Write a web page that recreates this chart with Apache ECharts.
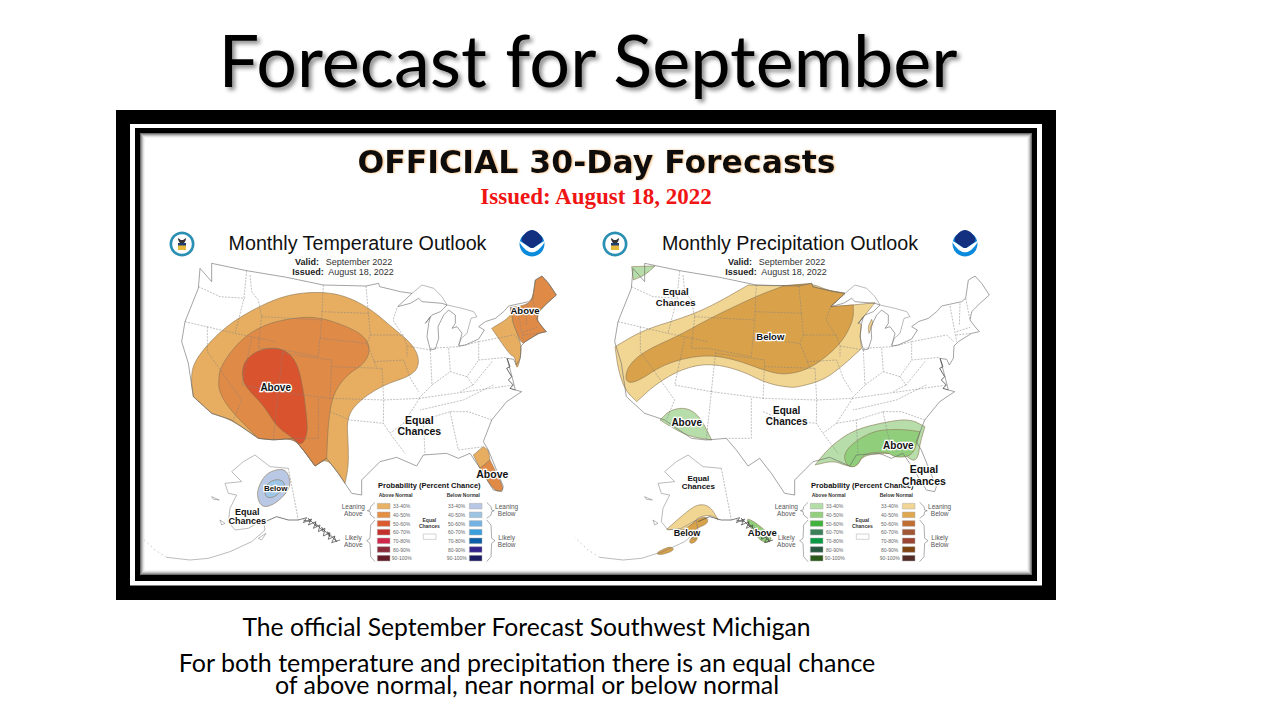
<!DOCTYPE html>
<html>
<head>
<meta charset="utf-8">
<title>Forecast for September</title>
<script src="https://cdn.jsdelivr.net/npm/echarts@6/dist/echarts.min.js"></script>
<style>
html, body { margin: 0; padding: 0; background: #fff; }
#chart { width: 1280px; height: 720px; }
</style>
</head>
<body>
<div id="chart"></div>
<script>
// map shapes are in "map units": 3 units = 1 px, both maps share the same base
var usCoast = [[245,130],[350,152],[470,172],[580,195],[708,198],[746,190],[749,200],[791,210],[811,215],[846,220],[803,260],[841,250],[866,235],[876,245],[936,250],[951,255],[931,275],[906,285],[886,310],[901,290],[896,310],[891,350],[901,390],[916,387],[926,355],[924,320],[941,285],[956,270],[976,285],[976,310],[966,325],[981,320],[996,340],[986,378],[1006,375],[1046,357],[1063,330],[1046,320],[1066,305],[1096,295],[1121,275],[1136,258],[1196,245],[1208,235],[1216,180],[1236,168],[1256,190],[1279,225],[1251,250],[1226,275],[1221,300],[1236,320],[1249,335],[1226,340],[1186,365],[1173,378],[1171,415],[1159,435],[1151,418],[1131,415],[1146,470],[1156,510],[1175,515],[1130,545],[1085,600],[1060,665],[1075,690],[1120,800],[1115,815],[1090,810],[1050,745],[1020,700],[985,715],[950,700],[880,705],[860,738],[800,712],[750,725],[695,780],[695,825],[665,820],[645,790],[625,760],[590,715],[555,738],[520,690],[490,655],[430,660],[385,655],[305,600],[245,580],[190,530],[175,430],[155,365],[165,305],[205,205],[210,145],[245,185],[245,130]];
var superiorNorth = [[846,220],[876,195],[911,205],[936,230],[951,255],[996,265],[1031,275],[1041,290],[1023,295],[1011,340],[994,355],[986,375]];
var chesapeake = [[1131,415],[1140,440],[1130,445],[1145,470],[1135,480],[1150,495],[1140,505],[1156,510]];
var usBorders = [
  [[205,200],[270,230],[345,235]],
  [[350,152],[342,235],[315,340]],
  [[165,305],[315,340],[435,365]],
  [[360,165],[365,215],[385,240],[395,290]],
  [[395,290],[575,300]],
  [[395,290],[385,385],[435,385]],
  [[232,320],[232,395],[335,540],[310,600]],
  [[365,355],[335,495],[445,515]],
  [[458,395],[445,515],[430,660]],
  [[435,385],[565,410]],
  [[458,400],[605,420],[600,540]],
  [[445,515],[600,535],[761,540]],
  [[565,535],[565,655],[490,655]],
  [[580,195],[575,300],[565,410]],
  [[575,275],[720,280]],
  [[570,355],[711,370],[741,445]],
  [[605,440],[756,445]],
  [[708,198],[715,280],[721,345],[711,370]],
  [[756,445],[761,540],[760,610],[780,640]],
  [[600,575],[660,600],[760,610]],
  [[721,345],[821,345]],
  [[731,425],[821,420],[841,475],[866,515]],
  [[801,265],[789,300],[821,350],[831,378],[831,410]],
  [[831,378],[901,390]],
  [[901,390],[906,495],[866,535]],
  [[901,385],[986,380]],
  [[956,385],[961,455]],
  [[906,495],[961,455],[1011,470],[1046,420]],
  [[986,380],[1046,365],[1046,420],[1131,412]],
  [[1046,365],[1151,345],[1173,365]],
  [[1011,470],[1029,495],[1086,425]],
  [[1029,495],[991,515]],
  [[761,540],[869,535],[1151,495]],
  [[1090,495],[1000,540],[870,570]],
  [[869,535],[820,610],[780,640],[825,700]],
  [[820,610],[880,600],[885,705]],
  [[880,600],[960,575],[985,690]],
  [[960,575],[1015,575],[1085,600]],
  [[985,690],[1060,680]],
  [[1161,258],[1181,365]],
  [[1191,250],[1189,315]],
  [[1208,235],[1221,300]],
  [[1181,335],[1221,322]],
  [[1179,345],[1226,340]]
];
var akCoast = [[475,745],[420,740],[375,705],[340,725],[305,755],[335,785],[285,790],[295,820],[320,825],[300,865],[295,905],[315,930],[355,925],[400,900],[405,930],[365,965],[300,995],[235,1015],[180,1020],[110,1012]];
var akGulf = [[405,905],[440,890],[475,900],[505,900]];
var akBorder = [[475,745],[505,900]];
var akAleutian = [[110,1012],[75,990],[35,952]];
var akIslands = [[[245,830],[268,840],[250,838],[245,830]], [[270,900],[285,910],[275,915],[270,900]], [[385,955],[408,940],[395,960],[385,955]]];
var akPanhandle = [[505,900],[530,893],[520,908],[545,897],[535,915],[558,905],[550,925],[570,915],[565,935],[585,925],[580,948],[600,938],[595,958],[615,948],[605,968],[630,960]];
var akPanhandle2 = [[520,900],[540,905],[535,895],[560,920],[555,908],[580,935],[575,922],[600,950],[592,935],[620,965],[612,950]];

// temperature outlook regions (a repeated point keeps a sharp corner)
var tempLean = [[183,480],[190,430],[235,370],[300,310],[385,260],[470,225],[560,215],[640,225],[720,265],[790,325],[850,375],[870,425],[850,465],[760,495],[690,540],[650,590],[655,680],[655,740],[645,790],[645,790],[625,760],[590,715],[555,738],[555,738],[520,690],[490,655],[430,660],[385,655],[385,655],[305,600],[245,580],[245,580],[190,530],[190,530]];
var tempMid = [[265,490],[270,440],[330,360],[400,315],[480,295],[560,290],[640,315],[700,345],[722,385],[705,430],[650,465],[610,520],[595,600],[590,715],[590,715],[555,738],[555,738],[520,690],[490,655],[430,660],[385,655],[385,655],[300,570],[270,520]];
var tempCore = [[335,460],[345,420],[385,390],[440,382],[480,400],[505,440],[520,510],[530,590],[533,640],[515,678],[490,655],[440,620],[400,555],[345,500]];
var neLean = [[1142,262],[1142,262],[1143,290],[1085,325],[1085,325],[1140,405],[1155,410],[1160,450],[1170,420],[1175,375],[1150,310],[1150,310]];
var neMid = [[1142,262],[1142,262],[1190,255],[1208,235],[1216,180],[1216,180],[1236,168],[1236,168],[1256,190],[1279,225],[1279,225],[1251,250],[1226,275],[1221,300],[1236,320],[1249,335],[1249,335],[1226,340],[1186,365],[1175,372],[1150,310],[1150,310]];
var flLean = [[1030,705],[1030,705],[1060,680],[1060,680],[1075,690],[1080,720],[1080,720],[1050,745],[1050,745]];
var flMid = [[1050,745],[1050,745],[1080,720],[1080,720],[1120,800],[1115,815],[1090,810]];
var akBlueOuter = [[470,747],[485,800],[440,850],[395,865],[378,820],[400,770],[430,750]];
var akBlueInner = [[440,775],[470,790],[440,830],[405,835],[405,795]];

// precipitation outlook regions
var precLean = [[156,380],[156,380],[241,330],[371,290],[451,255],[556,195],[556,195],[661,198],[746,190],[791,210],[846,220],[846,220],[803,260],[803,260],[871,255],[936,248],[936,248],[906,285],[886,310],[886,310],[896,310],[891,350],[896,385],[896,385],[836,440],[781,480],[711,500],[681,503],[611,490],[531,450],[441,430],[361,445],[281,490],[221,545],[221,545],[186,510],[166,450]];
var precStrip = [[926,298],[926,298],[930,310],[918,340],[918,340],[915,320]];
var precDark = [[186,470],[201,430],[251,390],[351,345],[431,300],[576,230],[661,198],[661,198],[746,190],[746,190],[749,200],[791,210],[846,220],[846,220],[803,260],[803,260],[871,255],[871,255],[871,300],[841,360],[791,410],[731,450],[661,465],[601,450],[521,420],[441,405],[361,415],[291,440],[231,480],[196,490]];
var wetWa = [[206,140],[206,140],[276,138],[276,138],[246,165],[211,180],[211,180]];
var wetAz = [[291,600],[291,600],[321,570],[371,562],[411,590],[446,660],[446,660],[381,650],[331,625]];
var wetSeOuter = [[756,735],[756,735],[801,680],[871,630],[971,605],[1041,597],[1086,620],[1086,620],[1071,670],[1066,710],[1051,725],[1021,700],[971,700],[901,705],[881,740],[851,738],[811,722]];
var wetSeInner = [[841,700],[881,660],[941,630],[1021,628],[1071,635],[1071,635],[1056,690],[1036,710],[996,712],[971,695],[901,700],[881,742],[851,738]];
var akTan = [[311,928],[311,928],[371,875],[406,852],[441,858],[466,900],[466,900],[446,885],[406,890],[381,920],[366,930],[366,930]];
var akBrown = [[406,895],[431,890],[436,910],[400,925],[375,950],[340,950],[345,938],[385,915]];
var akKodiak = [[381,955],[405,945],[400,965],[380,972]];
var akTail = [[276,1000],[321,978],[336,990],[296,1005]];
var akGreen = [[546,895],[571,902],[631,952],[611,972],[581,952]];

var tempColors = { lean: "#E7AE62", mid: "#E08A47", core: "#D9532E", blue1: "#B9C9E5", blue2: "#9DC5E8" };
var precColors = { lean: "#F1D593", dark: "#D9A24A", green1: "#B6DDAA", green2: "#90CE7C" };

// legend
var legendPct = ["33-40%", "40-50%", "50-60%", "60-70%", "70-80%", "80-90%", "90-100%"];
var tempAbove = ["#E9B164", "#E58F45", "#DD5A2E", "#C4302B", "#D0284A", "#8B2B3A", "#651E28"];
var tempBelow = ["#B8C8E4", "#9DC3E3", "#74B2E3", "#3B9FDC", "#0B5FA8", "#32218A", "#1C1A62"];
var precAbove = ["#B5DDA8", "#93CF7C", "#3FB33A", "#3A8059", "#0B9A44", "#26583F", "#2A5A1A"];
var precBelow = ["#F2D595", "#DFA84E", "#BF6E30", "#A05535", "#9C4433", "#7E4310", "#522B26"];

// [x, y, text, font size]
var tempLabels = [[437,503,"Above",10],[868,600,"Equal",10.5],[868,632,"Chances",10.5],[1185,270,"Above",9.5],[1087,762,"Above",10.5],[437,805,"Below",8],[352,877,"Equal",9],[352,903,"Chances",9]];
var precLabels = [[338,213,"Equal",9.5],[338,246,"Chances",9.5],[622,348,"Below",9.5],[371,607,"Above",10],[671,570,"Equal",10],[671,604,"Chances",10],[1006,675,"Above",10],[1083,748,"Equal",10.5],[1083,782,"Chances",10.5],[406,775,"Equal",8],[406,800,"Chances",8],[372,938,"Below",9],[598,936,"Above",9.5]];

var mapGrids = [
  { left: 130, top: 220, width: 440, height: 380, show: false },
  { left: 563, top: 220, width: 440, height: 380, show: false }
];

// corner cutting so the hand read outlines come out as soft curves
function soften(pts) {
  var out = pts;
  for (var n = 0; n < 3; n++) {
    var next = [];
    for (var i = 0; i < out.length; i++) {
      var a = out[i], b = out[(i + 1) % out.length];
      next.push([a[0] * 0.75 + b[0] * 0.25, a[1] * 0.75 + b[1] * 0.25]);
      next.push([a[0] * 0.25 + b[0] * 0.75, a[1] * 0.25 + b[1] * 0.75]);
    }
    out = next;
  }
  return out;
}

function polygonSeries(pts, color, g) {
  var smooth = soften(pts);
  return {
    type: "custom", xAxisIndex: g, yAxisIndex: g, clip: false, silent: true, z: 2,
    data: [[pts[0][0], pts[0][1]]],
    renderItem: function (params, api) {
      return {
        type: "polygon",
        shape: { points: smooth.map(function (p) { return api.coord(p); }) },
        style: { fill: color, stroke: "#8a7350", lineWidth: 0.6 }
      };
    }
  };
}

function lineSeries(pts, color, width, dash, g) {
  return {
    type: "line", xAxisIndex: g, yAxisIndex: g, data: pts, symbol: "none", silent: true, z: 3,
    lineStyle: { color: color, width: width, type: dash }
  };
}

function textSeries(rows, g) {
  return {
    type: "custom", xAxisIndex: g, yAxisIndex: g, clip: false, silent: true, z: 6,
    data: rows,
    renderItem: function (params, api) {
      var row = rows[params.dataIndex];
      var c = api.coord([row[0], row[1]]);
      return {
        type: "text",
        style: {
          x: c[0], y: c[1], text: row[2], align: "center", verticalAlign: "middle",
          font: (row[4] || "bold") + " " + row[3] + "px 'Liberation Sans'",
          fill: row[5] || "#111", stroke: row[4] ? null : "#fff", lineWidth: row[4] ? 0 : 2.5
        }
      };
    }
  };
}

function legendSeries(above, below, g) {
  var boxes = [];
  var rows = [
    [898,797,"Probability (Percent Chance)",7.5],
    [797,825,"Above Normal",5,"bold","#333"],[1000,825,"Below Normal",5,"bold","#333"],
    [670,858,"Leaning",6.5,"normal","#555"],[670,881,"Above",6.5,"normal","#555"],
    [670,951,"Likely",6.5,"normal","#555"],[670,973,"Above",6.5,"normal","#555"],
    [1130,858,"Leaning",6.5,"normal","#555"],[1130,881,"Below",6.5,"normal","#555"],
    [1130,951,"Likely",6.5,"normal","#555"],[1130,973,"Below",6.5,"normal","#555"],
    [898,899,"Equal",5,"bold","#333"],[898,918,"Chances",5,"bold","#333"]
  ];
  for (var i = 0; i < legendPct.length; i++) {
    var y = 850 + i * 26;
    boxes.push([742, y, 780, y + 17, above[i]]);
    boxes.push([1018, y, 1056, y + 17, below[i]]);
    rows.push([815, y + 9, legendPct[i], 5, "normal", "#666"]);
    rows.push([980, y + 9, legendPct[i], 5, "normal", "#666"]);
  }
  boxes.push([880, 942, 918, 958, "#fff"]);
  var out = [{
    type: "custom", xAxisIndex: g, yAxisIndex: g, clip: false, silent: true, z: 5,
    data: boxes,
    renderItem: function (params, api) {
      var b = boxes[params.dataIndex];
      var a = api.coord([b[0], b[1]]);
      var d = api.coord([b[2], b[3]]);
      return {
        type: "rect",
        shape: { x: a[0], y: a[1], width: d[0] - a[0], height: d[1] - a[1] },
        style: { fill: b[4], stroke: "#aaa", lineWidth: 0.5 }
      };
    }
  }, textSeries(rows, g)];
  var braces = [
    [[735,847],[722,860],[720,870],[712,872],[720,875],[722,885],[735,895]],
    [[735,900],[722,915],[720,955],[710,962],[720,970],[722,1010],[735,1025]],
    [[1070,847],[1083,860],[1085,870],[1093,872],[1085,875],[1083,885],[1070,895]],
    [[1070,900],[1083,915],[1085,955],[1095,962],[1085,970],[1083,1010],[1070,1025]]
  ];
  braces.forEach(function (p) { out.push(lineSeries(p, "#777", 0.6, "solid", g)); });
  return out;
}

function baseMapSeries(g) {
  var out = [];
  usBorders.forEach(function (p) { out.push(lineSeries(p, "#808080", 0.5, [2, 1.2], g)); });
  out.push(lineSeries(usCoast, "#666", 0.6, "solid", g));
  out.push(lineSeries(superiorNorth, "#777", 0.5, "solid", g));
  out.push(lineSeries(chesapeake, "#444", 0.8, "solid", g));
  out.push(lineSeries(akCoast, "#777", 0.5, "solid", g));
  out.push(lineSeries(akGulf, "#444", 0.7, "solid", g));
  out.push(lineSeries(akBorder, "#777", 0.5, [2, 1.2], g));
  out.push(lineSeries(akAleutian, "#888", 0.5, [1.5, 3], g));
  akIslands.forEach(function (p) { out.push(lineSeries(p, "#777", 0.5, "solid", g)); });
  out.push(lineSeries(akPanhandle, "#444", 0.7, "solid", g));
  out.push(lineSeries(akPanhandle2, "#444", 0.7, "solid", g));
  return out;
}

var series = [];
[[tempLean, tempColors.lean], [tempMid, tempColors.mid], [tempCore, tempColors.core],
 [neLean, tempColors.lean], [neMid, tempColors.mid], [flLean, tempColors.lean], [flMid, tempColors.mid],
 [akBlueOuter, tempColors.blue1], [akBlueInner, tempColors.blue2]].forEach(function (r) {
  series.push(polygonSeries(r[0], r[1], 0));
});
[[precLean, precColors.lean], [precStrip, precColors.lean], [precDark, precColors.dark], [wetWa, precColors.green1], [wetAz, precColors.green1],
 [wetSeOuter, precColors.green1], [wetSeInner, precColors.green2], [akTan, precColors.lean], [akBrown, precColors.dark],
 [akKodiak, precColors.dark], [akTail, precColors.dark], [akGreen, precColors.green2]].forEach(function (r) {
  series.push(polygonSeries(r[0], r[1], 1));
});
series = series.concat(baseMapSeries(0), baseMapSeries(1));
series = series.concat(legendSeries(tempAbove, tempBelow, 0), legendSeries(precAbove, precBelow, 1));
series.push(textSeries(tempLabels, 0));
series.push(textSeries(precLabels, 1));

function axis(max, inverse, g) {
  return { type: "value", gridIndex: g, min: 0, max: max, inverse: inverse, show: false };
}

function rect(x, y, w, h, fill) {
  return { type: "rect", shape: { x: x, y: y, width: w, height: h }, style: { fill: fill }, silent: true };
}

function text(x, y, str, font, fill, extra) {
  return {
    type: "text", x: x, y: y, silent: true, z: 10,
    style: Object.assign({ text: str, font: font, fill: fill, align: "center", verticalAlign: "middle" }, extra || {})
  };
}

function circle(x, y, r, fill) {
  return { type: "circle", shape: { cx: x, cy: y, r: r }, style: { fill: fill }, silent: true, z: 4 };
}

function blob(points, fill) {
  return { type: "polygon", silent: true, z: 4, shape: { points: soften(points) }, style: { fill: fill } };
}

function seal(x, y) {
  var shield = rect(x - 4, y - 1, 8, 7, "#E5B93A");
  var chief = rect(x - 4, y - 1, 8, 2.5, "#1F3F73");
  shield.z = 5;
  chief.z = 5;
  return [
    circle(x, y, 12.5, "#2A8FB3"), circle(x, y, 9.8, "#ffffff"),
    blob([[x - 5, y - 7], [x, y - 3], [x + 5, y - 7], [x + 2, y], [x - 2, y]], "#333333"),
    shield, chief
  ];
}

function noaa(x, y) {
  return [
    circle(x, y, 12.5, "#0C8BDD"),
    blob([[x - 12.5, y - 4], [x - 4, y - 14], [x + 4, y - 14], [x + 12.5, y - 4], [x + 4, y + 2], [x, y + 5], [x - 4, y + 2]], "#12307F"),
    blob([[x - 15, y - 5], [x - 6, y + 1], [x, y + 5], [x + 6, y + 1], [x + 15, y - 5], [x + 7, y + 6], [x, y + 9], [x - 7, y + 6]], "#ffffff")
  ];
}

var frame = [
  rect(116, 110, 940, 490, "#000000"),
  rect(130, 124, 912, 461.5, "#ffffff"),
  rect(135, 128, 902, 453, "#000000"),
  rect(140, 133, 892, 442, "#6e6e6e"),
  rect(141, 134, 890, 440, "#9c9c9c"),
  rect(142, 135, 888, 438, "#c4c4c4"),
  rect(143, 136, 886, 436, "#e2e2e2"),
  rect(144, 137, 884, 434, "#f4f4f4"),
  rect(145, 138, 882, 432, "#ffffff")
];

var pageText = [
  text(588, 59, "Forecast for September", "72px Lato", "#000", { textShadowColor: "rgba(0,0,0,0.45)", textShadowBlur: 4, textShadowOffsetX: 3, textShadowOffsetY: 3 }),
  text(596.5, 162, "OFFICIAL 30-Day Forecasts", "bold 31.5px 'DejaVu Sans'", "#111", { textShadowColor: "rgba(230,140,40,0.6)", textShadowBlur: 2, textShadowOffsetX: 1 }),
  text(596, 196, "Issued: August 18, 2022", "bold 23px 'Liberation Serif'", "#F01414"),
  text(357.5, 243, "Monthly Temperature Outlook", "19.7px 'Liberation Sans'", "#111"),
  text(790, 243, "Monthly Precipitation Outlook", "19.7px 'Liberation Sans'", "#111"),
  text(526.5, 626, "The official September Forecast Southwest Michigan", "24.7px Lato", "#000"),
  text(527, 662, "For both temperature and precipitation there is an equal chance", "25px Lato", "#000"),
  text(527, 684, "of above normal, near normal or below normal", "25px Lato", "#000")
];

function validLines(x) {
  return [
    text(x - 33, 262, "Valid:", "bold 9px 'Liberation Sans'", "#222"),
    text(x + 19, 262, "September 2022", "9px 'Liberation Sans'", "#333"),
    text(x - 32, 272, "Issued:", "bold 9px 'Liberation Sans'", "#222"),
    text(x + 21, 272, "August 18, 2022", "9px 'Liberation Sans'", "#333")
  ];
}

var chart = echarts.init(document.getElementById("chart"), null, { renderer: "svg" });
chart.setOption({
  animation: false,
  backgroundColor: "#ffffff",
  grid: mapGrids,
  xAxis: [axis(1320, false, 0), axis(1320, false, 1)],
  yAxis: [axis(1140, true, 0), axis(1140, true, 1)],
  graphic: { elements: frame.concat(seal(182, 244), seal(615, 244), noaa(532, 244), noaa(965, 244), validLines(340), validLines(773), pageText) },
  series: series
});
</script>
</body>
</html>
